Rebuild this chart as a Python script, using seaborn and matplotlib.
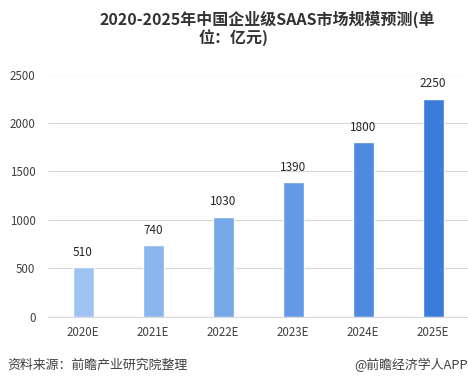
import matplotlib
matplotlib.use('Agg')
import matplotlib.pyplot as plt
import seaborn as sns
import pandas as pd

# Data
years = ['2020E', '2021E', '2022E', '2023E', '2024E', '2025E']
values = [510, 740, 1030, 1390, 1800, 2250]
bar_colors = ['#9fc3f1', '#8ab5ed', '#76a7e9', '#6399e5', '#4f8ae0', '#3b7bdb']
y_ticks = [0, 500, 1000, 1500, 2000, 2500]

sns.set_style('white')
plt.rcParams['font.family'] = ['Noto Sans CJK SC', 'DejaVu Sans']

df = pd.DataFrame({'year': years, 'value': values})

fig = plt.figure(figsize=(4.68, 3.86), dpi=100)
ax = fig.add_axes([48 / 468, 1 - 316.5 / 386, 420 / 468, (316.5 - 74.5) / 386])

sns.barplot(data=df, x='year', y='value', hue='year', palette=bar_colors,
            width=0.3, legend=False, ax=ax, saturation=1)

ax.set_ylim(0, 2500)
ax.set_xlim(-0.5, 5.5)
ax.set_yticks(y_ticks)
ax.yaxis.grid(True, color='#d9d9d9', linewidth=0.9)
ax.set_axisbelow(True)
for s in ['top', 'right', 'left']:
    ax.spines[s].set_visible(False)
ax.spines['bottom'].set_color('#d9d9d9')
ax.tick_params(axis='both', length=0, labelsize=8.3, colors='#404040')
ax.tick_params(axis='y', pad=9)
ax.tick_params(axis='x', pad=7)
ax.set_xlabel('')
ax.set_ylabel('')

for i, v in enumerate(values):
    ax.annotate(str(v), (i, v), xytext=(0, 6), textcoords='offset points',
                ha='center', va='bottom', fontsize=8.5, color='#262626')

fig.text(267 / 468, 1 - 19 / 386, '2020-2025年中国企业级SAAS市场规模预测(单',
         ha='center', va='center', fontsize=11.5, fontweight='bold', color='#333333')
fig.text(234 / 468, 1 - 38 / 386, '位：亿元)',
         ha='center', va='center', fontsize=11.5, fontweight='bold', color='#333333')

fig.text(7 / 468, 1 - 365 / 386, '资料来源：前瞻产业研究院整理',
         ha='left', va='center', fontsize=9.3, color='#404040')
fig.text(468 / 468, 1 - 365 / 386, '@前瞻经济学人APP',
         ha='right', va='center', fontsize=9.3, color='#404040')

fig.savefig('out.png', dpi=100)
